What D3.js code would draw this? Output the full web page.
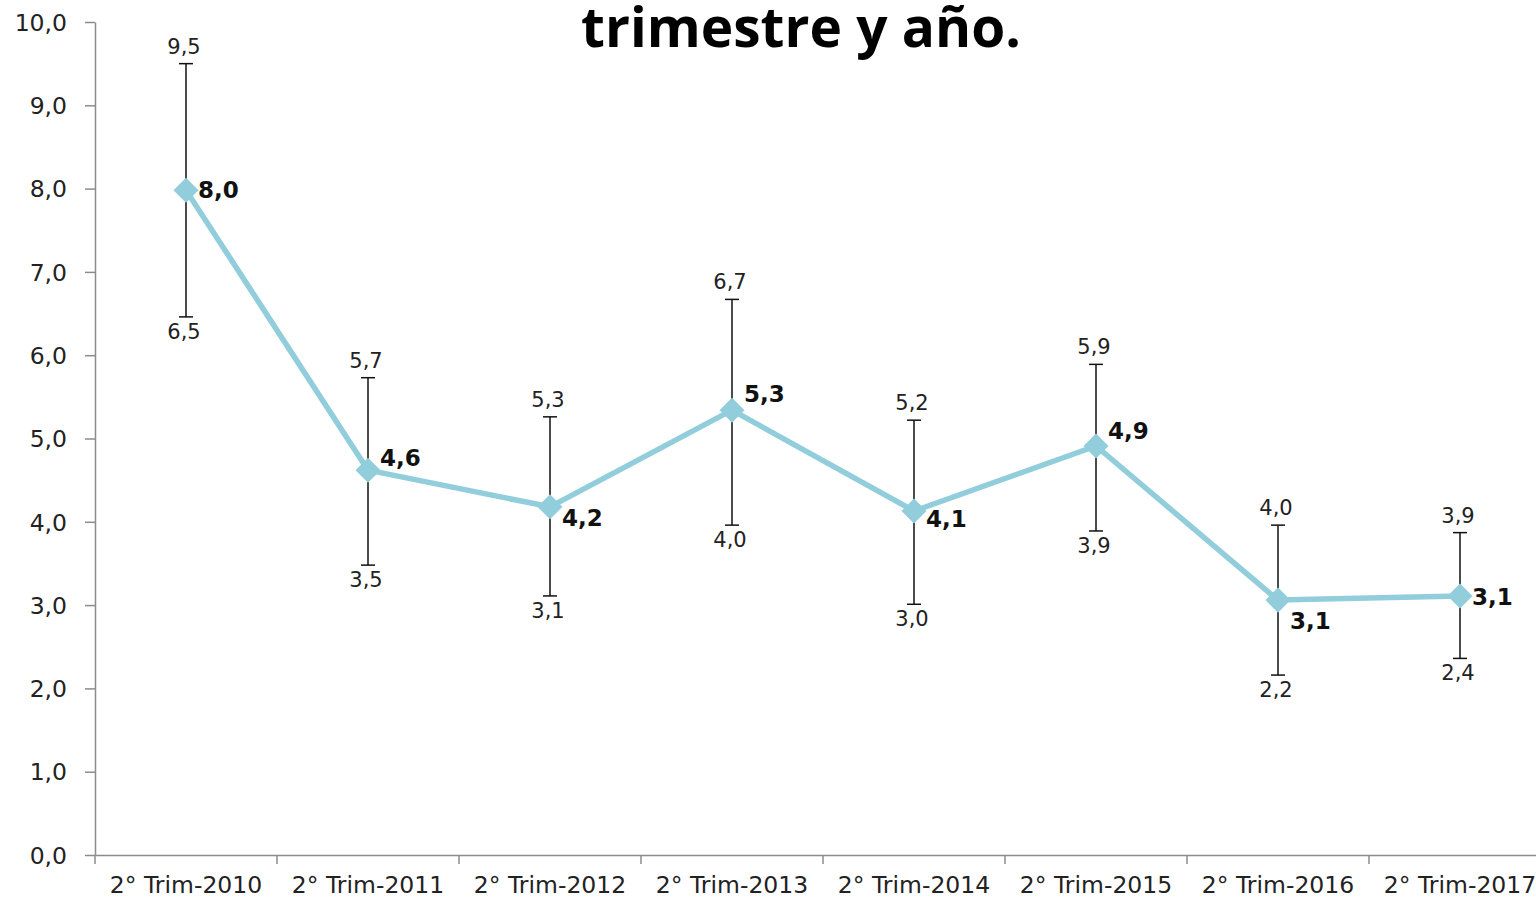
<!DOCTYPE html>
<meta charset="utf-8">
<head>
  <script src="https://cdn.jsdelivr.net/npm/d3@7"></script>
  <style>
    body { margin: 0; background: #fff; }
    .axis path, .axis line { stroke: #8c8c8c; stroke-width: 1.5px; }
    .axis text { font-family: "DejaVu Sans", Verdana, sans-serif; font-size: 23.5px; fill: #222; }
  </style>
</head>
<body>
  <div id="viz"></div>
  <script>
    // Data
    var categories = ["2° Trim-2010", "2° Trim-2011", "2° Trim-2012", "2° Trim-2013",
                      "2° Trim-2014", "2° Trim-2015", "2° Trim-2016", "2° Trim-2017"];
    var values = [7.98, 4.62, 4.18, 5.34, 4.13, 4.91, 3.06, 3.11];
    var upper = [9.5, 5.73, 5.26, 6.67, 5.22, 5.89, 3.96, 3.87];
    var lower = [6.46, 3.48, 3.11, 3.96, 3.01, 3.89, 2.16, 2.36];
    var yTicks = [0, 1, 2, 3, 4, 5, 6, 7, 8, 9, 10];

    // where each bold value label sits relative to its point (like the Excel labels)
    var labelDy = [8, -4, 19, -8, 16, -7, 29, 9];

    var config = { width: 1536, height: 900 };
    var fmt = function(v) { return d3.format(".1f")(v).replace(".", ","); };

    var svg = d3.select("#viz").append("svg")
      .attr("width", config.width)
      .attr("height", config.height);

    var x = d3.scaleBand()
      .domain(categories)
      .range([95, 95 + 8 * 182])
      .padding(0);

    var y = d3.scaleLinear()
      .domain([0, 10])
      .range([855, 22]);

    var cx = function(i) { return x(categories[i]) + x.bandwidth() / 2; };

    // title (upper lines are cut off in the reference)
    svg.append("text")
      .attr("x", 801)
      .attr("y", 47)
      .attr("text-anchor", "middle")
      .attr("font-family", "Open Sans, sans-serif")
      .attr("font-weight", "bold")
      .attr("font-size", 55)
      .text("trimestre y año.");

    // y axis
    svg.append("g")
      .attr("class", "axis")
      .attr("transform", "translate(95,0)")
      .call(d3.axisLeft(y).tickValues(yTicks).tickFormat(fmt).tickSize(10).tickSizeOuter(0).tickPadding(18))
      .selectAll("text").attr("dy", "0.35em");

    // x axis: labels centred, ticks on band boundaries
    var xAxis = svg.append("g")
      .attr("class", "axis")
      .attr("transform", "translate(0,855)")
      .call(d3.axisBottom(x).tickSize(0).tickSizeOuter(0).tickPadding(21));
    xAxis.selectAll("text").attr("dy", "0.71em");
    xAxis.selectAll(".bound")
      .data(categories)
      .enter().append("line")
      .attr("class", "bound")
      .attr("x1", function(d) { return x(d); })
      .attr("x2", function(d) { return x(d); })
      .attr("y1", 0)
      .attr("y2", 9);

    // error bars
    var eb = svg.append("g").attr("stroke", "#111").attr("stroke-width", 1.5);
    eb.selectAll(".stem").data(values).enter().append("line")
      .attr("x1", function(d, i) { return cx(i); })
      .attr("x2", function(d, i) { return cx(i); })
      .attr("y1", function(d, i) { return y(upper[i]); })
      .attr("y2", function(d, i) { return y(lower[i]); });
    [upper, lower].forEach(function(arr) {
      eb.selectAll(null).data(arr).enter().append("line")
        .attr("x1", function(d, i) { return cx(i) - 7; })
        .attr("x2", function(d, i) { return cx(i) + 7; })
        .attr("y1", function(d) { return y(d); })
        .attr("y2", function(d) { return y(d); });
    });

    // error bar labels
    svg.selectAll(".up").data(upper).enter().append("text")
      .attr("x", function(d, i) { return cx(i) - 2; })
      .attr("y", function(d) { return y(d) - 10; })
      .attr("text-anchor", "middle")
      .attr("font-family", "DejaVu Sans, Verdana, sans-serif")
      .attr("font-size", 21)
      .attr("fill", "#222")
      .text(function(d) { return fmt(d); });
    svg.selectAll(".lo").data(lower).enter().append("text")
      .attr("x", function(d, i) { return cx(i) - 2; })
      .attr("y", function(d) { return y(d) + 22; })
      .attr("text-anchor", "middle")
      .attr("font-family", "DejaVu Sans, Verdana, sans-serif")
      .attr("font-size", 21)
      .attr("fill", "#222")
      .text(function(d) { return fmt(d); });

    // line
    var line = d3.line()
      .x(function(d, i) { return cx(i); })
      .y(function(d) { return y(d); });
    svg.append("path")
      .datum(values)
      .attr("d", line)
      .attr("fill", "none")
      .attr("stroke", "#92CDDC")
      .attr("stroke-width", 5.5)
      .attr("stroke-linejoin", "round");

    // diamond markers
    svg.selectAll(".mk").data(values).enter().append("path")
      .attr("d", d3.symbol().type(d3.symbolDiamond2).size(400))
      .attr("transform", function(d, i) { return "translate(" + cx(i) + "," + y(d) + ")"; })
      .attr("fill", "#92CDDC");

    // bold value labels
    svg.selectAll(".val").data(values).enter().append("text")
      .attr("x", function(d, i) { return cx(i) + 12; })
      .attr("y", function(d, i) { return y(d) + labelDy[i]; })
      .attr("font-family", "DejaVu Sans, Verdana, sans-serif")
      .attr("font-weight", "bold")
      .attr("font-size", 23)
      .attr("fill", "#111")
      .text(function(d) { return fmt(d); });
  </script>
</body>
